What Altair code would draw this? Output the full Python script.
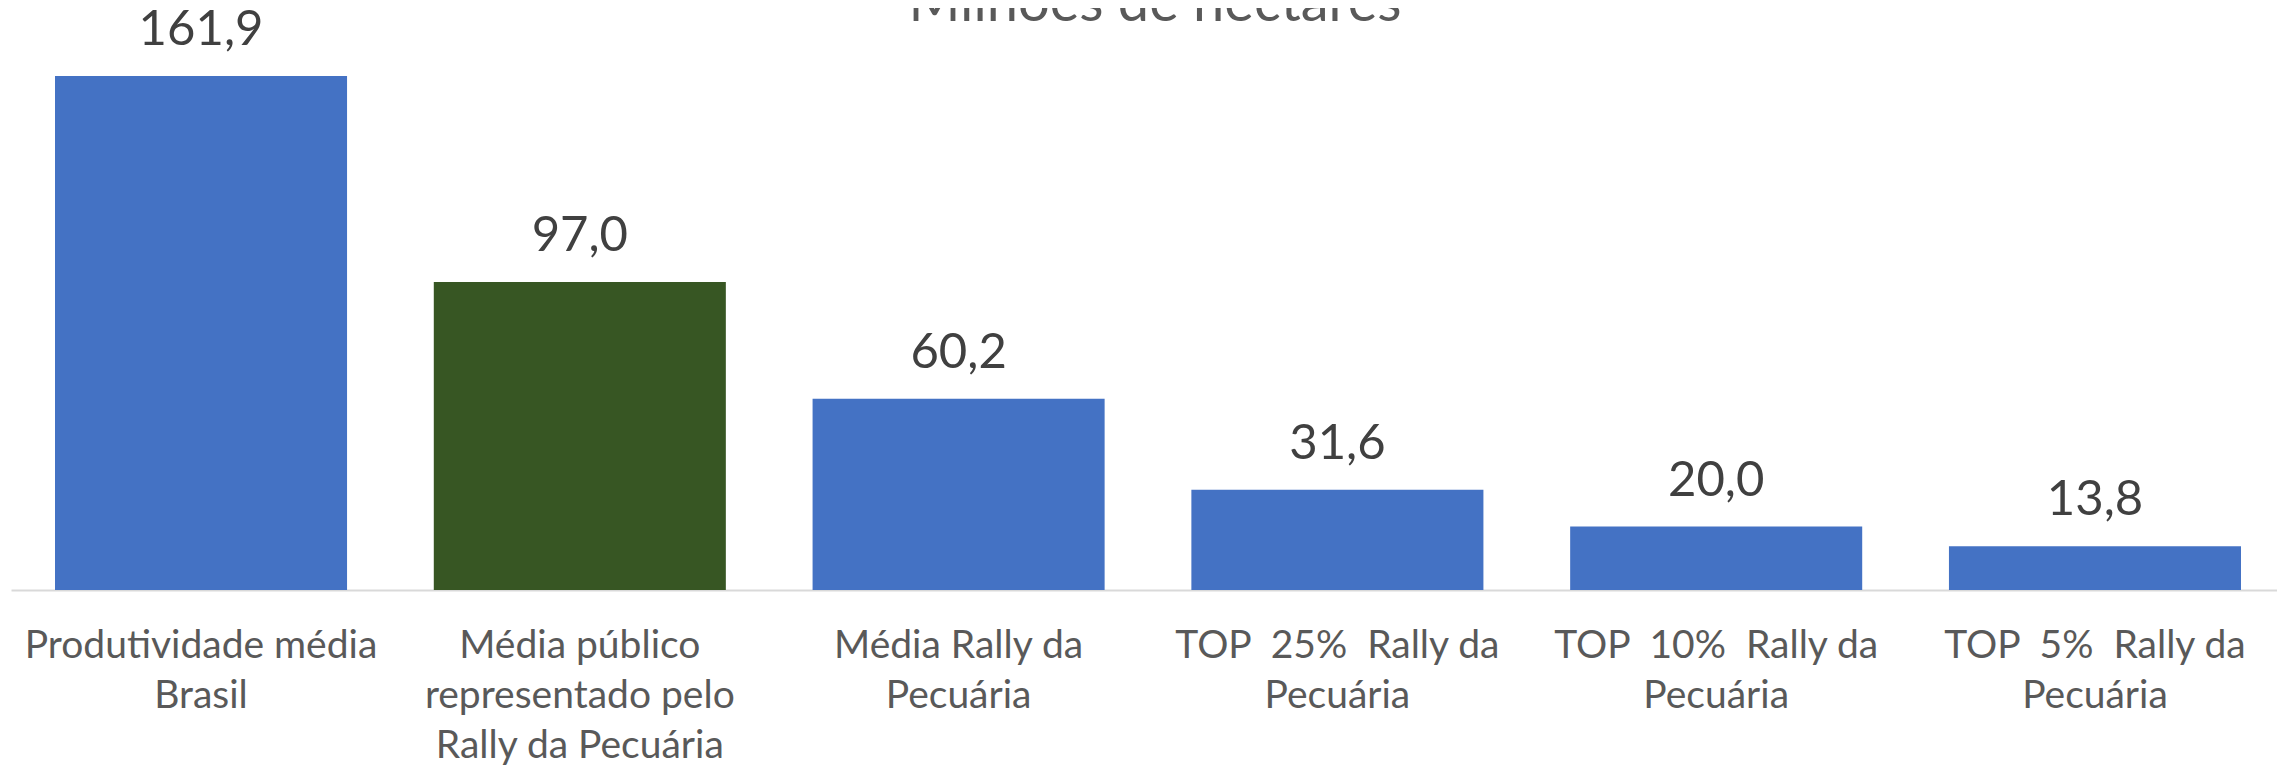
import altair as alt
import pandas as pd

categories = [
    "Produtividade média|Brasil",
    "Média público|representado pelo|Rally da Pecuária",
    "Média Rally da|Pecuária",
    "TOP\u00a0 25%\u00a0 Rally da|Pecuária",
    "TOP\u00a0 10%\u00a0 Rally da|Pecuária",
    "TOP\u00a0 5%\u00a0 Rally da|Pecuária",
]
values = [161.9, 97.0, 60.2, 31.6, 20.0, 13.8]
colors = ["#4472C4", "#375623", "#4472C4", "#4472C4", "#4472C4", "#4472C4"]
title_text = "Milhões de hectares"

df = pd.DataFrame({
    "cat": categories,
    "val": values,
    "color": colors,
    "label": [f"{v:.1f}".replace(".", ",") for v in values],
})

FONT = "Lato"

x = alt.X(
    "cat:N",
    sort=None,
    title=None,
    scale=alt.Scale(paddingInner=0.229, paddingOuter=0.1056, align=0.55),
    axis=alt.Axis(
        labelAngle=0,
        labelExpr="split(datum.label, '|')",
        labelFont=FONT,
        labelFontSize=39,
        labelColor="#595959",
        labelLineHeight=50,
        labelBaseline="alphabetic",
        labelPadding=67,
        ticks=False,
        domainColor="#D9D9D9",
        domainWidth=2,
        labelLimit=0,
    ),
)
y = alt.Y("val:Q", scale=alt.Scale(domain=[0, 180], nice=False), axis=None)

bars = alt.Chart(df).mark_bar().encode(
    x=x, y=y, color=alt.Color("color:N", scale=None)
)
texts = alt.Chart(df).mark_text(
    baseline="alphabetic", dy=-31, font=FONT, fontSize=49, color="#404040"
).encode(x=x, y=y, text="label:N")

title = alt.Chart(pd.DataFrame({"t": [title_text]})).mark_text(
    baseline="alphabetic", align="center", font=FONT, fontSize=56, color="#595959"
).encode(text="t:N", x=alt.value(1144), y=alt.value(2.5))

chart = alt.layer(bars, texts, title).properties(
    width=2266,
    height=571.5,
    autosize=alt.AutoSizeParams(type="none"),
    padding={"left": 3, "right": 0, "top": 10.5, "bottom": 177},
).configure_view(stroke=None)

chart.save("out.html", embed_options={"renderer": "svg", "actions": False})
